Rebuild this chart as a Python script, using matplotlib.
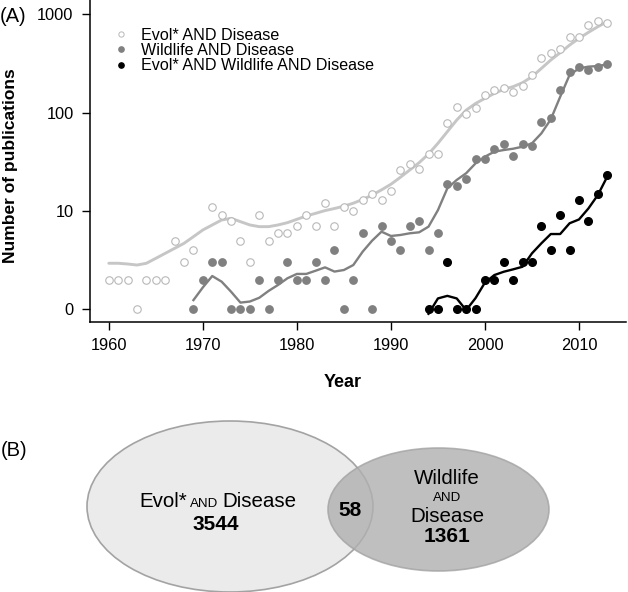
import matplotlib
matplotlib.use("Agg")
import matplotlib.pyplot as plt
import numpy as np
from matplotlib.lines import Line2D
from matplotlib.patches import Ellipse

plt.rcParams["font.family"] = ["Liberation Sans", "DejaVu Sans"]

# Yearly publication counts (log axis; the tick labelled "0" sits at 1)
years_evol = list(range(1960, 1970)) + list(range(1971, 2014))
evol_counts = [2, 2, 2, 1, 2, 2, 2, 5, 3, 4,
               11, 9, 8, 5, 3, 9, 5, 6, 6, 7, 9, 7, 12, 7, 11, 10, 13, 15, 13,
               16, 26, 30, 27, 38, 38, 79, 113, 97, 111, 151, 170, 177, 164,
               187, 242, 357, 402, 441, 585, 585, 780, 863, 812]

years_wild = list(range(1969, 2014))
wild_counts = [1, 2, 3, 3, 1, 1, 1, 2, 1, 2, 3, 2, 2, 3, 2, 4, 1, 2, 6, 1,
               7, 5, 4, 7, 8, 4, 6, 19, 18, 21, 34, 34, 43, 48, 36, 48, 46,
               80, 88, 170, 261, 290, 272, 290, 311]

years_both = list(range(1994, 2014))
both_counts = [1, 1, 3, 1, 1, 1, 2, 2, 3, 2, 3, 3, 7, 4, 9, 4, 13, 8, 15, 23]

# Smoothed trend lines
years_evol_smooth = list(range(1960, 2014))
evol_smooth = [2.94, 2.94, 2.89, 2.82, 2.94, 3.3, 3.71, 4.17, 4.69, 5.48,
               6.41, 7.21, 8.1, 8.42, 7.79, 7.21, 6.93, 6.93, 7.21, 7.61,
               8.23, 8.9, 9.47, 10.1, 10.6, 11.2, 12.0, 13.1, 14.5, 16.4,
               18.7, 22.0, 26.1, 31.0, 38.0, 48.8, 64.1, 84.2, 106, 124,
               140, 157, 173, 184, 202, 232, 282, 343, 407, 487,
               570, 656, 749, 842]
wild_smooth = [1.24, 1.67, 2.18, 1.91, 1.51, 1.17, 1.2, 1.31, 1.54, 1.77,
               2.07, 2.29, 2.29, 2.47, 2.67, 2.42, 2.51, 2.82, 3.86, 4.99,
               6.16, 5.57, 5.7, 5.93, 6.07, 6.93, 10.2, 17.0, 20.7, 24.2,
               30.5, 35.7, 40.1, 41.7, 43.0, 45.1, 48.8, 61.6, 85.5, 145,
               242, 282, 294, 298, 310]
both_smooth = [0.9, 1.29, 1.37, 1.29, 0.98, 1.3, 1.87, 2.23, 2.41, 2.55,
               2.71, 3.71, 4.69, 5.83, 5.83, 7.5, 8.2, 10.6, 14.5, 22.3]

series_labels = ["Evol* AND Disease", "Wildlife AND Disease",
                 "Evol* AND Wildlife AND Disease"]

# Venn counts
venn_evol = 3544
venn_wild = 1361
venn_both = 58

c_evol = "#b8b8b8"
c_wild = "#808080"
c_both = "#000000"

W, H = 628, 592
fig = plt.figure(figsize=(W / 100, H / 100), dpi=100)

# Overlay axes in pixel units for panel B and panel labels
ov = fig.add_axes([0, 0, 1, 1])
ov.set_xlim(0, W)
ov.set_ylim(H, 0)
ov.axis("off")

# Panel A
ax = fig.add_axes([90 / W, 1 - 321.7 / H, 536 / W, 321.7 / H])
ax.set_yscale("log")
ax.set_xlim(1958, 2015)
ax.set_ylim(0.748, 1400)

ax.plot(years_evol_smooth, evol_smooth, color="#c6c6c6", lw=2.1,
        solid_capstyle="round", zorder=2)
ax.plot(years_wild, wild_smooth, color=c_wild, lw=1.7, zorder=2)
ax.plot(years_both, both_smooth, color=c_both, lw=1.7, zorder=2)

ax.plot(years_evol, evol_counts, "o", ms=5.4, mfc="white", mec=c_evol,
        mew=0.8, ls="none", zorder=3)
ax.plot(years_wild, wild_counts, "o", ms=5.3, color=c_wild, ls="none",
        zorder=3)
ax.plot(years_both, both_counts, "o", ms=5.5, color=c_both, ls="none",
        zorder=3)

ax.set_yticks([1, 10, 100, 1000])
ax.set_yticklabels(["0", "10", "100", "1000"])
ax.yaxis.set_minor_locator(matplotlib.ticker.NullLocator())
ax.set_xticks([1960, 1970, 1980, 1990, 2000, 2010])
ax.tick_params(direction="out", length=5.8, width=1.0, labelsize=11.8,
               pad=6)
for side in ("top", "right"):
    ax.spines[side].set_visible(False)
for side in ("left", "bottom"):
    ax.spines[side].set_linewidth(1.1)
ax.patch.set_alpha(0)

ax.set_xlabel("Year", fontsize=13, fontweight="bold")
ax.xaxis.set_label_coords((343 - 90) / 536, -(374 - 321.7) / 321.7)
ax.set_ylabel("Number of publications", fontsize=12.5, fontweight="bold")
ax.yaxis.set_label_coords(-(90 - 18) / 536, 0.5 - (166 - 161) / 321.7)

handles = [
    Line2D([], [], ls="none", marker="o", ms=3.8, mfc="white", mec=c_evol,
           mew=0.7),
    Line2D([], [], ls="none", marker="o", ms=3.8, color=c_wild),
    Line2D([], [], ls="none", marker="o", ms=3.8, color=c_both),
]
ax.legend(handles, series_labels, loc="upper left",
          bbox_to_anchor=((114 - 90) / 536, 1 - 27.5 / 321.7), frameon=False,
          fontsize=11.6, handlelength=0.9, handletextpad=0.75,
          labelspacing=0.02, borderaxespad=0, borderpad=0)

ov.text(13, 16, "(A)", fontsize=14.5, ha="center", va="center")

# Panel B: Venn diagram
ov.text(14, 450, "(B)", fontsize=14.5, ha="center", va="center")
ov.add_patch(Ellipse((230, 506.5), 286, 171, facecolor="#ebebeb",
                     edgecolor="#a3a3a3", lw=1.2, zorder=1))
ov.add_patch(Ellipse((438.5, 509.5), 221, 123, facecolor="#b0b0b0",
                     edgecolor="#a3a3a3", lw=1.2, alpha=0.8, zorder=2))

fs = 14.8
ov.text(187, 507, "Evol*", fontsize=fs, ha="right", va="baseline", zorder=3)
ov.text(204.5, 507, "AND", fontsize=9.6, ha="center", va="baseline",
        zorder=3)
ov.text(222, 507, "Disease", fontsize=fs, ha="left", va="baseline",
        zorder=3)
ov.text(216, 524.5, f"{venn_evol}", fontsize=15, fontweight="bold",
        ha="center", va="center", zorder=3)
ov.text(350, 510, f"{venn_both}", fontsize=15, fontweight="bold",
        ha="center", va="center", zorder=3)
ov.text(447, 479, "Wildlife", fontsize=fs, ha="center", va="center",
        zorder=3)
ov.text(447, 498, "AND", fontsize=9.6, ha="center", va="center", zorder=3)
ov.text(447, 517, "Disease", fontsize=fs, ha="center", va="center",
        zorder=3)
ov.text(447, 537, f"{venn_wild}", fontsize=15, fontweight="bold",
        ha="center", va="center", zorder=3)

fig.savefig("out.png", dpi=100)
